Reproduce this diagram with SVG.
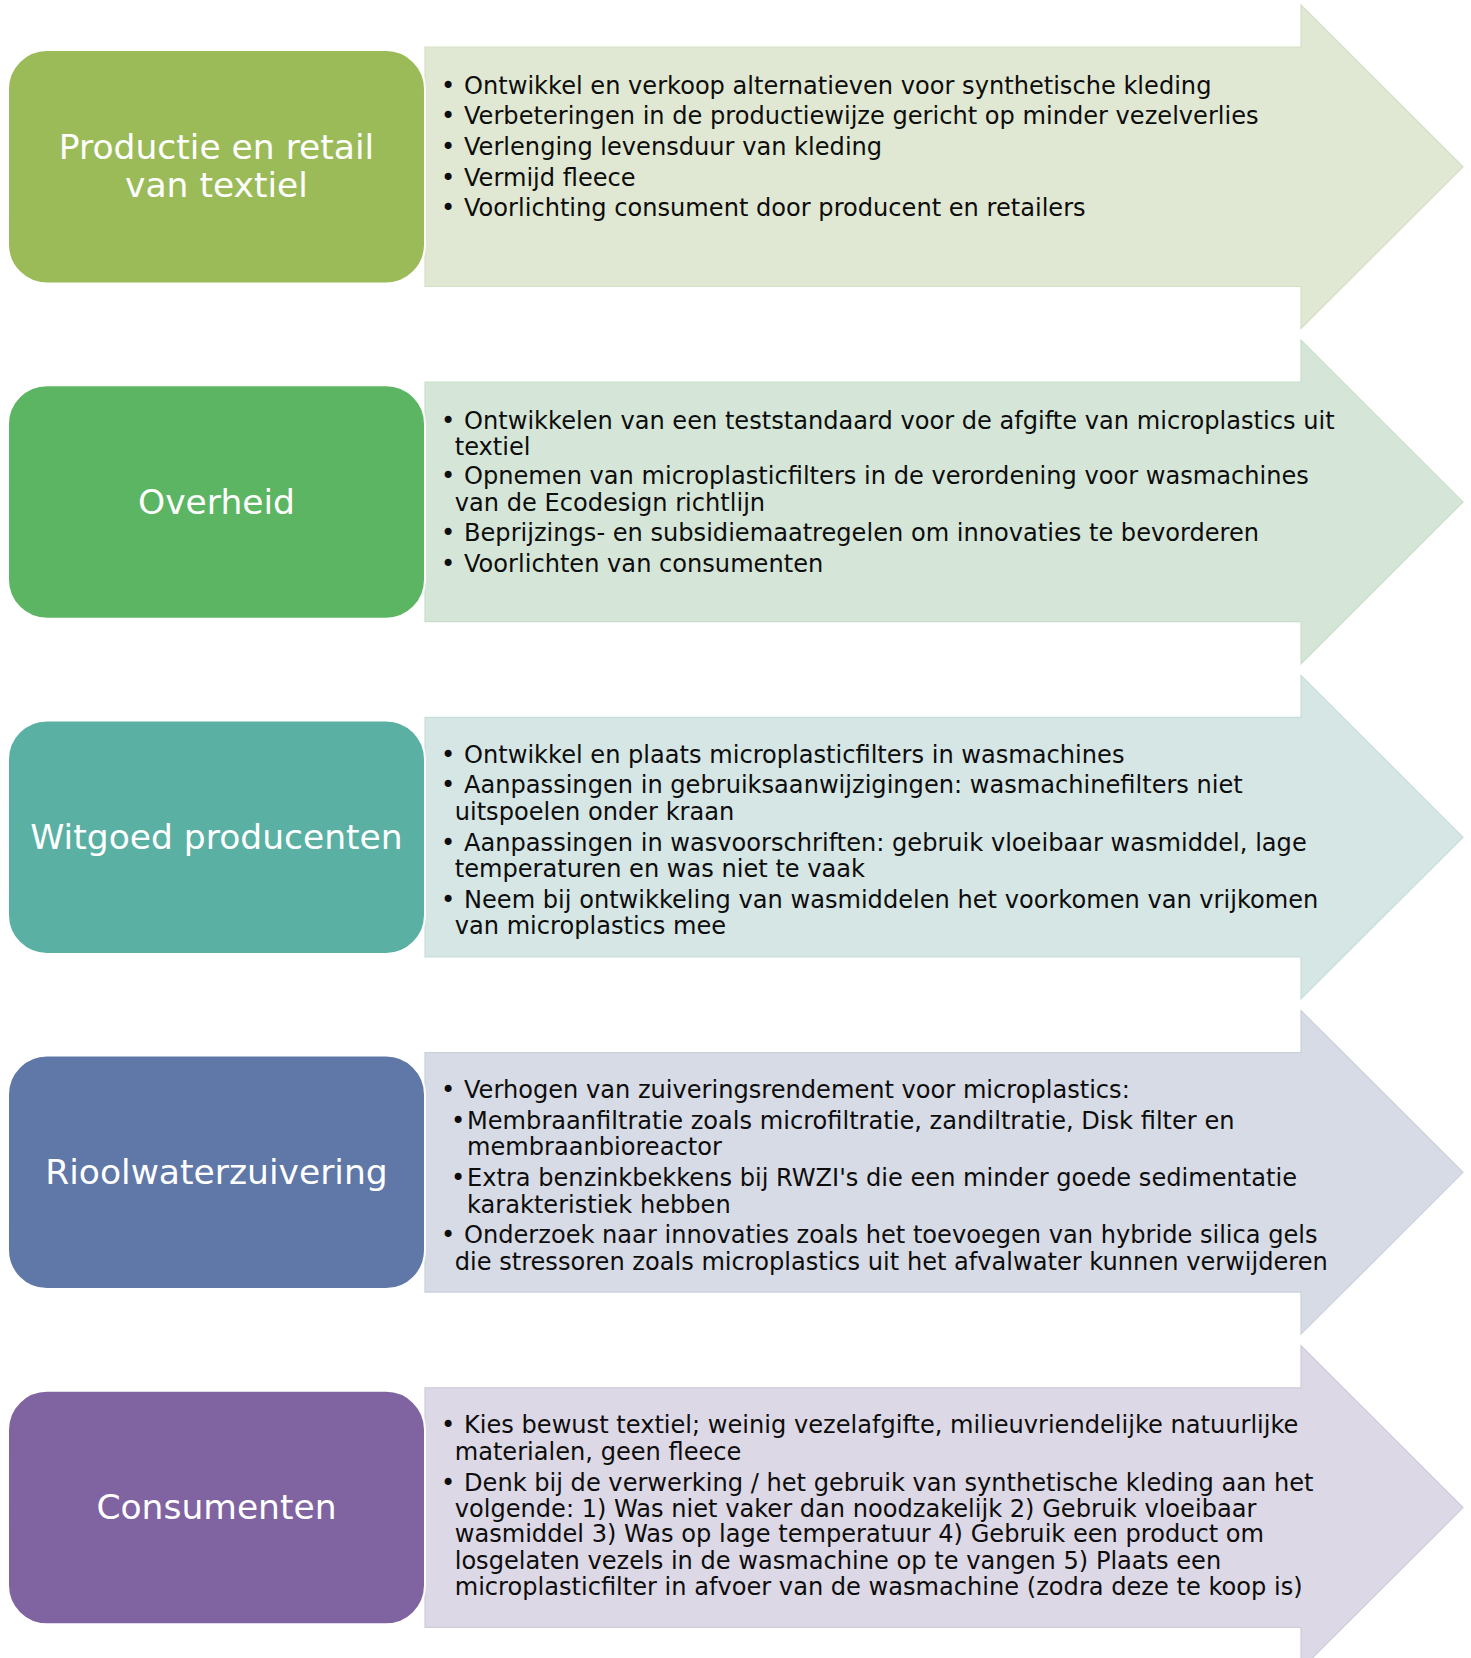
<svg xmlns="http://www.w3.org/2000/svg" width="1471" height="1658" viewBox="0 0 1471 1658">
  <style>
    .box { stroke: #ffffff; stroke-width: 2; }
    .arrow { stroke-width: 1.2; }
    .title { font-family: "DejaVu Sans", Verdana, sans-serif; font-size: 34.5px; fill: #ffffff; text-anchor: middle; }
    .item { font-family: "DejaVu Sans", Verdana, sans-serif; font-size: 24.1px; fill: #0d0d0d; }
  </style>
  <defs>
    <!-- right-pointing block arrow, local origin = top of the rounded box -->
    <path id="blockArrow" d="M425 -3 H1301 V-45 L1463 116.75 L1301 278.5 V236.5 H425 Z"/>
    <rect id="roundBox" x="8" y="0" width="417" height="233.5" rx="39" ry="39"/>
  </defs>

  <rect width="1471" height="1658" fill="#ffffff"/>

  <!-- Productie en retail van textiel -->
  <g id="row-textiel" transform="translate(0,50)">
    <use href="#blockArrow" class="arrow" fill="#E0E8D3" stroke="#D5DFC5"/>
    <g id="node-textiel">
      <use href="#roundBox" class="box" fill="#9BBB59"/>
      <text class="title"><tspan x="216.5" y="108.5">Productie en retail</tspan><tspan x="216.5" y="147">van textiel</tspan></text>
    </g>
    <g id="list-textiel" class="item">
      <text x="441" y="43.7">•</text><text x="464" y="43.7">Ontwikkel en verkoop alternatieven voor synthetische kleding</text>
      <text x="441" y="74.3">•</text><text x="464" y="74.3">Verbeteringen in de productiewijze gericht op minder vezelverlies</text>
      <text x="441" y="105">•</text><text x="464" y="105">Verlenging levensduur van kleding</text>
      <text x="441" y="135.7">•</text><text x="464" y="135.7">Vermijd fleece</text>
      <text x="441" y="166.3">•</text><text x="464" y="166.3">Voorlichting consument door producent en retailers</text>
    </g>
  </g>

  <!-- Overheid -->
  <g id="row-overheid" transform="translate(0,385.2)">
    <use href="#blockArrow" class="arrow" fill="#D5E6D8" stroke="#C8DECB"/>
    <g id="node-overheid">
      <use href="#roundBox" class="box" fill="#5CB562"/>
      <text class="title" x="216.5" y="128.5">Overheid</text>
    </g>
    <g id="list-overheid" class="item">
      <text x="441" y="43.8">•</text><text x="464" y="43.8">Ontwikkelen van een teststandaard voor de afgifte van microplastics uit</text>
      <text x="454.7" y="69.8">textiel</text>
      <text x="441" y="99.3">•</text><text x="464" y="99.3">Opnemen van microplasticfilters in de verordening voor wasmachines</text>
      <text x="454.7" y="125.8">van de Ecodesign richtlijn</text>
      <text x="441" y="156.3">•</text><text x="464" y="156.3">Beprijzings- en subsidiemaatregelen om innovaties te bevorderen</text>
      <text x="441" y="187.3">•</text><text x="464" y="187.3">Voorlichten van consumenten</text>
    </g>
  </g>

  <!-- Witgoed producenten -->
  <g id="row-witgoed" transform="translate(0,720.4)">
    <use href="#blockArrow" class="arrow" fill="#D5E6E4" stroke="#C7DDDA"/>
    <g id="node-witgoed">
      <use href="#roundBox" class="box" fill="#5BB0A4"/>
      <text class="title" x="216.5" y="128.5">Witgoed producenten</text>
    </g>
    <g id="list-witgoed" class="item">
      <text x="441" y="42.6">•</text><text x="464" y="42.6">Ontwikkel en plaats microplasticfilters in wasmachines</text>
      <text x="441" y="73.1">•</text><text x="464" y="73.1">Aanpassingen in gebruiksaanwijzigingen: wasmachinefilters niet</text>
      <text x="454.7" y="99.6">uitspoelen onder kraan</text>
      <text x="441" y="130.6">•</text><text x="464" y="130.6">Aanpassingen in wasvoorschriften: gebruik vloeibaar wasmiddel, lage</text>
      <text x="454.7" y="157.1">temperaturen en was niet te vaak</text>
      <text x="441" y="187.6">•</text><text x="464" y="187.6">Neem bij ontwikkeling van wasmiddelen het voorkomen van vrijkomen</text>
      <text x="454.7" y="214.1">van microplastics mee</text>
    </g>
  </g>

  <!-- Rioolwaterzuivering -->
  <g id="row-riool" transform="translate(0,1055.6)">
    <use href="#blockArrow" class="arrow" fill="#D7DBE5" stroke="#CBD0DC"/>
    <g id="node-riool">
      <use href="#roundBox" class="box" fill="#6078A8"/>
      <text class="title" x="216.5" y="128.5">Rioolwaterzuivering</text>
    </g>
    <g id="list-riool" class="item">
      <text x="441" y="42.4">•</text><text x="464" y="42.4">Verhogen van zuiveringsrendement voor microplastics:</text>
      <text x="451" y="73.1">•</text><text x="467" y="73.1">Membraanfiltratie zoals microfiltratie, zandiltratie, Disk filter en</text>
      <text x="467" y="99.4">membraanbioreactor</text>
      <text x="451" y="130.4">•</text><text x="467" y="130.4">Extra benzinkbekkens bij RWZI's die een minder goede sedimentatie</text>
      <text x="467" y="157">karakteristiek hebben</text>
      <text x="441" y="187.6">•</text><text x="464" y="187.6">Onderzoek naar innovaties zoals het toevoegen van hybride silica gels</text>
      <text x="454.7" y="214.2">die stressoren zoals microplastics uit het afvalwater kunnen verwijderen</text>
    </g>
  </g>

  <!-- Consumenten -->
  <g id="row-consumenten" transform="translate(0,1390.8)">
    <use href="#blockArrow" class="arrow" fill="#DCD8E5" stroke="#D0CBDC"/>
    <g id="node-consumenten">
      <use href="#roundBox" class="box" fill="#8064A2"/>
      <text class="title" x="216.5" y="128.5">Consumenten</text>
    </g>
    <g id="list-consumenten" class="item">
      <text x="441" y="42.7">•</text><text x="464" y="42.7">Kies bewust textiel; weinig vezelafgifte, milieuvriendelijke natuurlijke</text>
      <text x="454.7" y="69.2">materialen, geen fleece</text>
      <text x="441" y="99.8">•</text><text x="464" y="99.8">Denk bij de verwerking / het gebruik van synthetische kleding aan het</text>
      <text x="454.7" y="126.2">volgende: 1) Was niet vaker dan noodzakelijk 2) Gebruik vloeibaar</text>
      <text x="454.7" y="151.6">wasmiddel 3) Was op lage temperatuur 4) Gebruik een product om</text>
      <text x="454.7" y="178.2">losgelaten vezels in de wasmachine op te vangen 5) Plaats een</text>
      <text x="454.7" y="204.2">microplasticfilter in afvoer van de wasmachine (zodra deze te koop is)</text>
    </g>
  </g>
</svg>
